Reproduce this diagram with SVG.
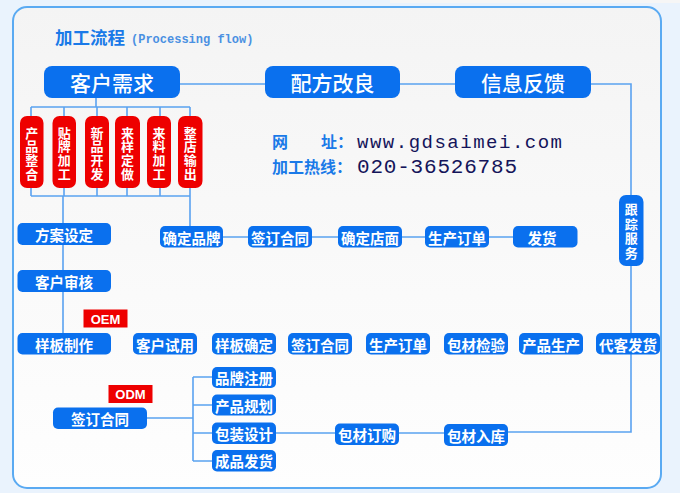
<svg xmlns="http://www.w3.org/2000/svg" width="680" height="493" viewBox="0 0 680 493">
<defs>
<linearGradient id="bg" x1="0" y1="0" x2="0" y2="1">
<stop offset="0" stop-color="#f4f4f4"/>
<stop offset="1" stop-color="#fefefe"/>
</linearGradient>
<style>
.b{fill:#0a70ee}
.r{fill:#ee0000}
.t{font-family:"Noto Sans CJK SC","Noto Sans",sans-serif;fill:#fff;text-anchor:middle;dominant-baseline:central}
.s{font-size:14.5px;font-weight:bold}
.big{font-size:21px;font-weight:500}
.v{font-size:13px;font-weight:bold}
.ln{fill:none;stroke:#5aa2f0;stroke-width:1.6}
.lbl{font-family:"Noto Sans CJK SC",sans-serif;font-weight:bold;fill:#1a7ae8;font-size:16px}
.mono{font-family:"Liberation Mono","DejaVu Sans Mono",monospace;fill:#14145a}
</style>
</defs>
<rect x="0" y="0" width="680" height="493" fill="#eaf3fd"/>
<rect x="390" y="0" width="290" height="3" fill="#f6f6f6"/>
<rect x="13" y="7" width="648" height="481" rx="14" fill="url(#bg)" stroke="#5aaaf2" stroke-width="2"/>

<text x="55" y="44" style="font-family:'Noto Sans CJK SC',sans-serif;font-weight:bold;font-size:17.5px;fill:#1a7ae8">加工流程</text>
<text x="131" y="43" style="font-family:'Liberation Mono','DejaVu Sans Mono',monospace;font-size:12px;font-weight:bold;fill:#4a90e2">(Processing flow)</text>

<text x="272" y="148" class="lbl">网<tspan x="321">址：</tspan></text>
<text x="272" y="173" class="lbl">加工热线：</text>
<text x="357" y="148" class="mono" style="font-size:19px" textLength="205" lengthAdjust="spacing">www.gdsaimei.com</text>
<text x="357" y="173" class="mono" style="font-size:21px" textLength="160" lengthAdjust="spacing">020-36526785</text>

<g id="connectors">
<path class="ln" d="M180 84H265M400 84H455M590 84H631V195M631 266V432H508"/>
<path class="ln" d="M96 98V107M31 107H190M31 107V116M64 107V116M97 107V116M127 107V116M160 107V116M190 107V116"/>
<path class="ln" d="M31 188V196M64 188V196M97 188V196M127 188V196M160 188V196M190 188V196M31 196H190M63 196V223M190 196V226"/>
<path class="ln" d="M63 245V270M63 292V333"/>
<path class="ln" d="M223 237H248M312 237H338M402 237H425M489 237H513"/>
<path class="ln" d="M147 418H193M193 377V461M193 377H212M193 405H212M193 433H212M193 461H212M276 433H335M399 433H444"/>
</g>

<g id="n-kehuxuqiu"><rect class="b" x="44" y="66" width="136" height="32" rx="8"/><text class="t big" x="112" y="82">客户需求</text></g>
<g id="n-peifang"><rect class="b" x="265" y="66" width="135" height="32" rx="8"/><text class="t big" x="332.5" y="82">配方改良</text></g>
<g id="n-xinxi"><rect class="b" x="455" y="66" width="136" height="32" rx="8"/><text class="t big" x="523" y="82">信息反馈</text></g>

<g id="n-r1"><rect class="r" x="20" y="116" width="23.5" height="72" rx="7"/><text class="t v" x="31.8" y="132">产</text><text class="t v" x="31.8" y="145.7">品</text><text class="t v" x="31.8" y="159.4">整</text><text class="t v" x="31.8" y="173.1">合</text></g>
<g id="n-r2"><rect class="r" x="52.5" y="116" width="23.5" height="72" rx="7"/><text class="t v" x="64.2" y="132">贴</text><text class="t v" x="64.2" y="145.7">牌</text><text class="t v" x="64.2" y="159.4">加</text><text class="t v" x="64.2" y="173.1">工</text></g>
<g id="n-r3"><rect class="r" x="85" y="116" width="24" height="72" rx="7"/><text class="t v" x="97" y="132">新</text><text class="t v" x="97" y="145.7">品</text><text class="t v" x="97" y="159.4">开</text><text class="t v" x="97" y="173.1">发</text></g>
<g id="n-r4"><rect class="r" x="115" y="116" width="25" height="72" rx="7"/><text class="t v" x="127.5" y="132">来</text><text class="t v" x="127.5" y="145.7">样</text><text class="t v" x="127.5" y="159.4">定</text><text class="t v" x="127.5" y="173.1">做</text></g>
<g id="n-r5"><rect class="r" x="147" y="116" width="24" height="72" rx="7"/><text class="t v" x="159" y="132">来</text><text class="t v" x="159" y="145.7">料</text><text class="t v" x="159" y="159.4">加</text><text class="t v" x="159" y="173.1">工</text></g>
<g id="n-r6"><rect class="r" x="178" y="116" width="24.5" height="72" rx="7"/><text class="t v" x="190.2" y="132">整</text><text class="t v" x="190.2" y="145.7">店</text><text class="t v" x="190.2" y="159.4">输</text><text class="t v" x="190.2" y="173.1">出</text></g>

<g id="n-fangan"><rect class="b" x="17.5" y="223" width="93.5" height="22" rx="5"/><text class="t s" x="64" y="234">方案设定</text></g>
<g id="n-shenhe"><rect class="b" x="17.5" y="270" width="93.5" height="22" rx="5"/><text class="t s" x="64" y="281">客户审核</text></g>
<g id="n-yangban"><rect class="b" x="17.5" y="333" width="93.5" height="21.5" rx="5"/><text class="t s" x="64" y="344">样板制作</text></g>
<g id="n-oem"><rect class="r" x="83.5" y="309.5" width="44" height="18"/><text x="105.5" y="319" style="font-family:'Liberation Sans',sans-serif;font-weight:bold;font-size:13px;fill:#fff;text-anchor:middle;dominant-baseline:central">OEM</text></g>

<g id="n-qdpp"><rect class="b" x="160" y="226" width="63" height="21.5" rx="5"/><text class="t s" x="191.5" y="237">确定品牌</text></g>
<g id="n-qdht1"><rect class="b" x="248" y="226" width="64" height="21.5" rx="5"/><text class="t s" x="280" y="237">签订合同</text></g>
<g id="n-qddm"><rect class="b" x="338" y="226" width="64" height="21.5" rx="5"/><text class="t s" x="370" y="237">确定店面</text></g>
<g id="n-scdd1"><rect class="b" x="425" y="226" width="64" height="21.5" rx="5"/><text class="t s" x="457" y="237">生产订单</text></g>
<g id="n-fahuo"><rect class="b" x="513" y="226" width="64.5" height="21.5" rx="5"/><text class="t s" x="542" y="237">发货</text></g>

<g id="n-genzong"><rect class="b" x="619" y="195" width="24.5" height="71" rx="7"/><text class="t v" x="631.2" y="208.5">跟</text><text class="t v" x="631.2" y="223">踪</text><text class="t v" x="631.2" y="237.5">服</text><text class="t v" x="631.2" y="252">务</text></g>

<g id="n-khsy"><rect class="b" x="133" y="333" width="64" height="21.5" rx="5"/><text class="t s" x="165" y="344">客户试用</text></g>
<g id="n-ybqd"><rect class="b" x="212" y="333" width="64" height="21.5" rx="5"/><text class="t s" x="244" y="344">样板确定</text></g>
<g id="n-qdht2"><rect class="b" x="288" y="333" width="64" height="21.5" rx="5"/><text class="t s" x="320" y="344">签订合同</text></g>
<g id="n-scdd2"><rect class="b" x="366" y="333" width="64" height="21.5" rx="5"/><text class="t s" x="398" y="344">生产订单</text></g>
<g id="n-bcjy"><rect class="b" x="444" y="333" width="64" height="21.5" rx="5"/><text class="t s" x="476" y="344">包材检验</text></g>
<g id="n-cpsc"><rect class="b" x="519" y="333" width="64" height="21.5" rx="5"/><text class="t s" x="551" y="344">产品生产</text></g>
<g id="n-dkfh"><rect class="b" x="596" y="333" width="64" height="21.5" rx="5"/><text class="t s" x="628" y="344">代客发货</text></g>

<g id="n-odm"><rect class="r" x="108.5" y="385" width="44" height="18"/><text x="130.5" y="394.5" style="font-family:'Liberation Sans',sans-serif;font-weight:bold;font-size:13px;fill:#fff;text-anchor:middle;dominant-baseline:central">ODM</text></g>
<g id="n-qdht3"><rect class="b" x="53" y="407.5" width="94" height="21.5" rx="5"/><text class="t s" x="100" y="418.5">签订合同</text></g>
<g id="n-ppzc"><rect class="b" x="212" y="367" width="64" height="21" rx="5"/><text class="t s" x="244" y="377.5">品牌注册</text></g>
<g id="n-cpgh"><rect class="b" x="212" y="394.5" width="64" height="21" rx="5"/><text class="t s" x="244" y="405">产品规划</text></g>
<g id="n-bzsj"><rect class="b" x="212" y="422.5" width="64" height="21.5" rx="5"/><text class="t s" x="244" y="433.3">包装设计</text></g>
<g id="n-cpfh"><rect class="b" x="212" y="450" width="64" height="21.5" rx="5"/><text class="t s" x="244" y="460.8">成品发货</text></g>
<g id="n-bcdg"><rect class="b" x="335" y="423.5" width="64" height="21.5" rx="5"/><text class="t s" x="367" y="434.3">包材订购</text></g>
<g id="n-bcrk"><rect class="b" x="444" y="424" width="64" height="22" rx="5"/><text class="t s" x="476" y="435">包材入库</text></g>
</svg>
